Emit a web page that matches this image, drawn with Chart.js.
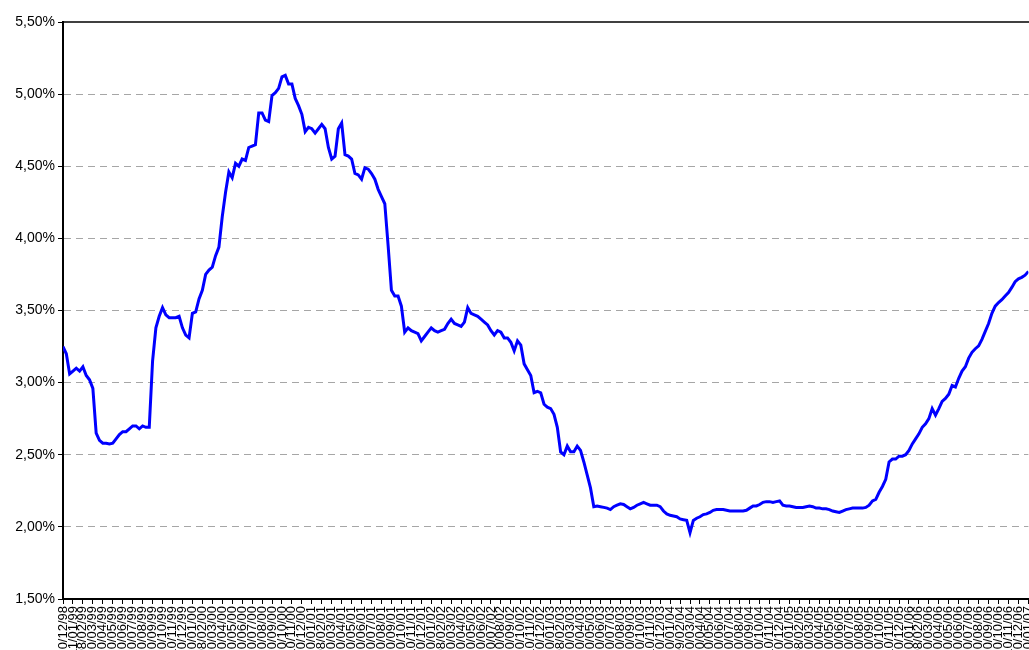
<!DOCTYPE html>
<html>
<head>
<meta charset="utf-8">
<script src="https://cdn.jsdelivr.net/npm/chart.js@4.4.1/dist/chart.umd.min.js"></script>
<style>
  html, body { margin: 0; padding: 0; background: #fff; overflow: hidden; }
  #wrap { position: absolute; left: 0; top: 0; }
</style>
</head>
<body>
<div id="wrap"><canvas id="rate-chart" width="1046" height="664"></canvas></div>
<script>
// month tick labels (one per month, Dec 98 .. Jan 07)
const monthLabels = [
  '10/12/98',
  '11/01/99','08/02/99','10/03/99','10/04/99','10/05/99','10/06/99','10/07/99','10/08/99','10/09/99','10/10/99','10/11/99','10/12/99',
  '10/01/00','08/02/00','10/03/00','10/04/00','10/05/00','10/06/00','10/07/00','10/08/00','10/09/00','10/10/00','10/11/00','10/12/00',
  '10/01/01','08/02/01','10/03/01','10/04/01','10/05/01','10/06/01','10/07/01','10/08/01','10/09/01','10/10/01','10/11/01','10/12/01',
  '10/01/02','08/02/02','10/03/02','10/04/02','10/05/02','10/06/02','10/07/02','10/08/02','10/09/02','10/10/02','10/11/02','10/12/02',
  '10/01/03','08/02/03','10/03/03','10/04/03','10/05/03','10/06/03','10/07/03','10/08/03','10/09/03','10/10/03','10/11/03','10/12/03',
  '10/01/04','09/02/04','10/03/04','10/04/04','10/05/04','10/06/04','10/07/04','10/08/04','10/09/04','10/10/04','10/11/04','10/12/04',
  '10/01/05','08/02/05','10/03/05','10/04/05','10/05/05','10/06/05','10/07/05','10/08/05','10/09/05','10/10/05','10/11/05','10/12/05',
  '10/01/06','08/02/06','10/03/06','10/04/06','10/05/06','10/06/06','10/07/06','10/08/06','10/09/06','10/10/06','10/11/06','10/12/06',
  '10/01/07'
]

// rate readings, three per month, starting at the first label
const samplesPerMonth = 3
const rates = [
  3.25, 3.20, 3.06, 3.08, 3.10, 3.08, 3.11, 3.05, 3.02, 2.96,
  2.65, 2.60, 2.58, 2.58, 2.575, 2.58, 2.61, 2.64, 2.66, 2.66,
  2.68, 2.70, 2.70, 2.68, 2.70, 2.69, 2.69, 3.15, 3.38, 3.46,
  3.52, 3.47, 3.45, 3.45, 3.45, 3.46, 3.38, 3.33, 3.31, 3.48,
  3.49, 3.58, 3.64, 3.75, 3.78, 3.80, 3.88, 3.94, 4.15, 4.32,
  4.46, 4.42, 4.52, 4.50, 4.55, 4.54, 4.63, 4.64, 4.65, 4.87,
  4.87, 4.82, 4.81, 4.99, 5.01, 5.04, 5.12, 5.13, 5.07, 5.07,
  4.97, 4.92, 4.86, 4.74, 4.77, 4.76, 4.73, 4.76, 4.79, 4.76,
  4.63, 4.55, 4.57, 4.76, 4.80, 4.58, 4.57, 4.55, 4.45, 4.44,
  4.41, 4.49, 4.48, 4.45, 4.41, 4.34, 4.29, 4.24, 3.95, 3.64,
  3.60, 3.60, 3.53, 3.35, 3.38, 3.36, 3.35, 3.34, 3.29, 3.32,
  3.35, 3.38, 3.36, 3.35, 3.36, 3.37, 3.41, 3.44, 3.41, 3.40,
  3.39, 3.42, 3.52, 3.48, 3.47, 3.46, 3.44, 3.42, 3.40, 3.36,
  3.33, 3.36, 3.35, 3.31, 3.31, 3.28, 3.22, 3.29, 3.26, 3.13,
  3.09, 3.05, 2.93, 2.94, 2.93, 2.85, 2.83, 2.82, 2.78, 2.69,
  2.52, 2.50, 2.56, 2.52, 2.52, 2.56, 2.53, 2.45, 2.36, 2.27,
  2.14, 2.145, 2.14, 2.135, 2.13, 2.12, 2.14, 2.15, 2.16, 2.155,
  2.14, 2.125, 2.135, 2.15, 2.16, 2.17, 2.16, 2.15, 2.15, 2.15,
  2.14, 2.11, 2.09, 2.08, 2.075, 2.07, 2.055, 2.05, 2.045, 1.96,
  2.045, 2.06, 2.07, 2.085, 2.09, 2.10, 2.115, 2.12, 2.12, 2.12,
  2.115, 2.11, 2.11, 2.11, 2.11, 2.11, 2.115, 2.13, 2.145, 2.145,
  2.155, 2.17, 2.175, 2.175, 2.17, 2.175, 2.18, 2.15, 2.145, 2.145,
  2.14, 2.135, 2.135, 2.135, 2.14, 2.145, 2.14, 2.13, 2.13, 2.125,
  2.125, 2.12, 2.11, 2.105, 2.10, 2.11, 2.12, 2.125, 2.13, 2.13,
  2.13, 2.13, 2.135, 2.15, 2.18, 2.19, 2.24, 2.28, 2.33, 2.45,
  2.47, 2.47, 2.49, 2.49, 2.50, 2.53, 2.575, 2.61, 2.645, 2.69,
  2.715, 2.75, 2.82, 2.775, 2.82, 2.87, 2.89, 2.92, 2.98, 2.97,
  3.03, 3.08, 3.11, 3.17, 3.21, 3.235, 3.255, 3.30, 3.355, 3.41,
  3.48, 3.53, 3.555, 3.575, 3.60, 3.625, 3.66, 3.70, 3.72, 3.73,
  3.745, 3.77
]

// y axis ticks
const yTicks = [1.5, 2.0, 2.5, 3.0, 3.5, 4.0, 4.5, 5.0, 5.5]

const fontFamily = "'Liberation Sans', Arial, sans-serif"

// thin frame line along the top of the plot area
const topBorder = {
  id: 'topBorder',
  afterDraw(chart) {
    const { ctx, chartArea } = chart
    ctx.save()
    ctx.strokeStyle = '#000'
    ctx.lineWidth = 1.5
    ctx.beginPath()
    ctx.moveTo(chartArea.left, chartArea.top)
    ctx.lineTo(chartArea.right + 2, chartArea.top)
    ctx.stroke()
    ctx.restore()
  }
}

const ctx = document.getElementById('rate-chart').getContext('2d')

new Chart(ctx, {
  type: 'line',
  data: {
    datasets: [
      {
        label: 'taxa',
        data: rates.map((v, i) => ({ x: i / samplesPerMonth, y: v })),
        borderColor: '#0000ff',
        borderWidth: 3,
        pointRadius: 0,
        tension: 0,
        fill: false,
      },
    ],
  },
  options: {
    responsive: false,
    animation: false,
    layout: { padding: { top: 22, left: 0, right: 0, bottom: 0 } },
    plugins: {
      legend: { display: false },
      tooltip: { enabled: false },
    },
    scales: {
      x: {
        type: 'linear',
        min: 0,
        max: monthLabels.length - 1,
        afterBuildTicks: (s) => { s.ticks = monthLabels.map((_, i) => ({ value: i })) },
        afterFit: (s) => { s.height = 65 },
        border: { display: true, color: '#000', width: 2 },
        grid: {
          drawOnChartArea: false,
          drawTicks: true,
          tickLength: 5,
          tickColor: '#000',
          tickWidth: 1,
        },
        ticks: {
          autoSkip: false,
          maxRotation: 90,
          minRotation: 90,
          padding: 2,
          color: '#000',
          font: { family: fontFamily, size: 13 },
          callback: (v) => monthLabels[v],
        },
      },
      y: {
        min: 1.5,
        max: 5.5,
        afterBuildTicks: (s) => { s.ticks = yTicks.map((v) => ({ value: v })) },
        afterFit: (s) => { s.width = 63 },
        border: { display: true, color: '#000', width: 2, dash: [7, 5] },
        grid: {
          color: (c) => (c.tick && (c.tick.value === 1.5 || c.tick.value === 5.5)) ? 'rgba(0,0,0,0)' : '#a6a6a6',
          lineWidth: 1,
          tickLength: 5,
          tickColor: '#000',
          tickBorderDash: [],
        },
        ticks: {
          padding: 3,
          color: '#000',
          font: { family: fontFamily, size: 14 },
          callback: (v) => v.toFixed(2).replace('.', ',') + '%',
        },
      },
    },
  },
  plugins: [topBorder],
})
</script>
</body>
</html>
